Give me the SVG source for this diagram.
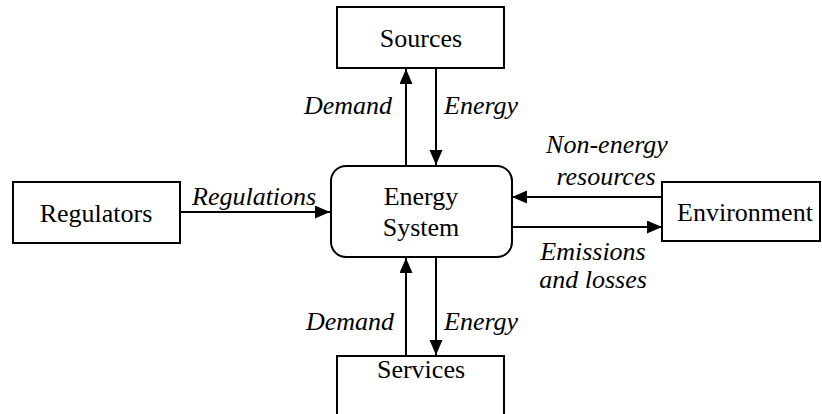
<svg xmlns="http://www.w3.org/2000/svg" width="822" height="414" viewBox="0 0 822 414">
<style>
.box{fill:#fff;stroke:#000;stroke-width:2}
.lbl{font-family:'Liberation Serif',Tinos,'Times New Roman',Times,serif;font-size:26px;fill:#000;text-anchor:middle}
.it{font-family:'Liberation Serif',Tinos,'Times New Roman',Times,serif;font-size:26px;font-style:italic;fill:#000}
.conn{stroke:#000;stroke-width:2;fill:none;marker-end:url(#ah)}
</style>
<defs>
<marker id="ah" markerUnits="userSpaceOnUse" markerWidth="16" markerHeight="14" refX="15" refY="6.5" orient="auto">
<path d="M0,0 L15,6.5 L0,13 z" fill="#000"/>
</marker>
</defs>
<rect width="822" height="414" fill="#fff"/>
<g id="connectors">
<line class="conn" x1="406" y1="166" x2="406" y2="69"/>
<line class="conn" x1="436" y1="68" x2="436" y2="165"/>
<line class="conn" x1="180" y1="212" x2="330" y2="212"/>
<line class="conn" x1="662" y1="197" x2="512" y2="197"/>
<line class="conn" x1="512" y1="227" x2="662" y2="227"/>
<line class="conn" x1="406" y1="356" x2="406" y2="258"/>
<line class="conn" x1="436" y1="257" x2="436" y2="355"/>
</g>
<g id="labels">
<text class="it" x="392" y="114" text-anchor="end">Demand</text>
<text class="it" x="444" y="114">Energy</text>
<text class="it" x="192" y="205">Regulations</text>
<text class="it" x="607" y="153" text-anchor="middle">Non-energy</text>
<text class="it" x="606" y="185" text-anchor="middle">resources</text>
<text class="it" x="593" y="260" text-anchor="middle">Emissions</text>
<text class="it" x="593" y="288" text-anchor="middle">and losses</text>
<text class="it" x="394" y="330" text-anchor="end">Demand</text>
<text class="it" x="444" y="330">Energy</text>
</g>
<g id="sources">
<rect class="box" x="337" y="7" width="167" height="61"/>
<text class="lbl" x="421" y="47">Sources</text>
</g>
<g id="energy-system">
<rect class="box" x="331" y="166" width="181" height="91" rx="15" ry="15"/>
<text class="lbl" x="421" y="205">Energy</text>
<text class="lbl" x="421" y="236">System</text>
</g>
<g id="regulators">
<rect class="box" x="13" y="182" width="167" height="61"/>
<text class="lbl" x="96" y="222">Regulators</text>
</g>
<g id="environment">
<rect class="box" x="662" y="182" width="158" height="59"/>
<text class="lbl" x="745" y="221">Environment</text>
</g>
<g id="services">
<rect class="box" x="337" y="356" width="167" height="62"/>
<text class="lbl" x="421" y="378">Services</text>
</g>
</svg>
